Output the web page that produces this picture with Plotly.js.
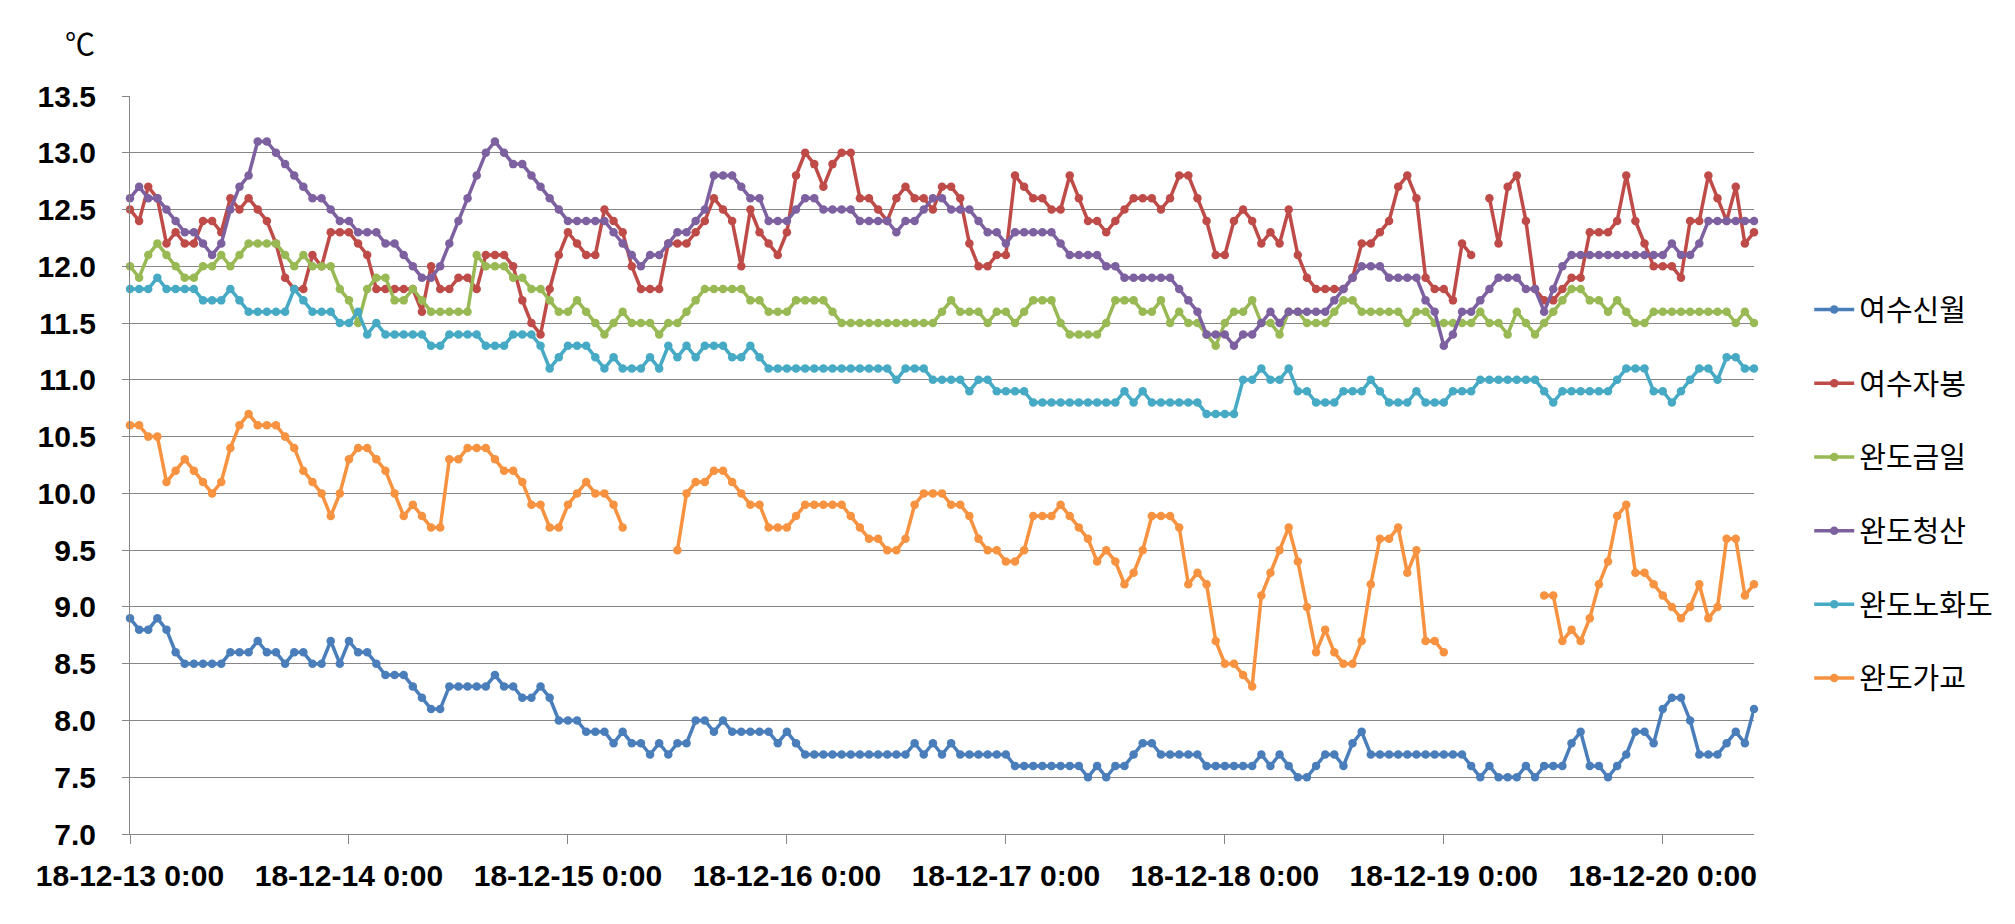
<!DOCTYPE html>
<html>
<head>
<meta charset="utf-8">
<script src="https://cdn.plot.ly/plotly-3.0.1.min.js"></script>
<style>html,body{margin:0;padding:0;background:#fff;}#chart{width:2015px;height:924px;}</style>
</head>
<body>
<div id="chart"></div>
<script>
// Hourly readings from 2018-12-13 00:00 to 2018-12-20 10:00 (179 points)
const startTime = '2018-12-13T00:00:00';
const endTime = '2018-12-20T10:00:00';
const seriesNames = ['여수신월', '여수자봉', '완도금일', '완도청산', '완도노화도', '완도가교'];
const tickVals = ['2018-12-13 00:00','2018-12-14 00:00','2018-12-15 00:00','2018-12-16 00:00','2018-12-17 00:00','2018-12-18 00:00','2018-12-19 00:00','2018-12-20 00:00'];
const tickText = ['18-12-13 0:00','18-12-14 0:00','18-12-15 0:00','18-12-16 0:00','18-12-17 0:00','18-12-18 0:00','18-12-19 0:00','18-12-20 0:00'];

const yeosuSinwol = [
 8.9,8.8,8.8,8.9,8.8,8.6,8.5,8.5,8.5,8.5,8.5,8.6,8.6,8.6,8.7,8.6,8.6,8.5,8.6,8.6,8.5,8.5,8.7,8.5,
 8.7,8.6,8.6,8.5,8.4,8.4,8.4,8.3,8.2,8.1,8.1,8.3,8.3,8.3,8.3,8.3,8.4,8.3,8.3,8.2,8.2,8.3,8.2,8.0,
 8.0,8.0,7.9,7.9,7.9,7.8,7.9,7.8,7.8,7.7,7.8,7.7,7.8,7.8,8.0,8.0,7.9,8.0,7.9,7.9,7.9,7.9,7.9,7.8,
 7.9,7.8,7.7,7.7,7.7,7.7,7.7,7.7,7.7,7.7,7.7,7.7,7.7,7.7,7.8,7.7,7.8,7.7,7.8,7.7,7.7,7.7,7.7,7.7,
 7.7,7.6,7.6,7.6,7.6,7.6,7.6,7.6,7.6,7.5,7.6,7.5,7.6,7.6,7.7,7.8,7.8,7.7,7.7,7.7,7.7,7.7,7.6,7.6,
 7.6,7.6,7.6,7.6,7.7,7.6,7.7,7.6,7.5,7.5,7.6,7.7,7.7,7.6,7.8,7.9,7.7,7.7,7.7,7.7,7.7,7.7,7.7,7.7,
 7.7,7.7,7.7,7.6,7.5,7.6,7.5,7.5,7.5,7.6,7.5,7.6,7.6,7.6,7.8,7.9,7.6,7.6,7.5,7.6,7.7,7.9,7.9,7.8,
 8.1,8.2,8.2,8.0,7.7,7.7,7.7,7.8,7.9,7.8,8.1
];
const yeosuJabong = [
 12.5,12.4,12.7,12.6,12.2,12.3,12.2,12.2,12.4,12.4,12.3,12.6,12.5,12.6,12.5,12.4,12.2,11.9,11.8,11.8,12.1,12.0,12.3,12.3,
 12.3,12.2,12.1,11.8,11.8,11.8,11.8,11.8,11.6,12.0,11.8,11.8,11.9,11.9,11.8,12.1,12.1,12.1,12.0,11.7,11.5,11.4,11.8,12.1,
 12.3,12.2,12.1,12.1,12.5,12.4,12.3,12.0,11.8,11.8,11.8,12.2,12.2,12.2,12.3,12.4,12.6,12.5,12.4,12.0,12.5,12.3,12.2,12.1,
 12.3,12.8,13.0,12.9,12.7,12.9,13.0,13.0,12.6,12.6,12.5,12.4,12.6,12.7,12.6,12.6,12.5,12.7,12.7,12.6,12.2,12.0,12.0,12.1,
 12.1,12.8,12.7,12.6,12.6,12.5,12.5,12.8,12.6,12.4,12.4,12.3,12.4,12.5,12.6,12.6,12.6,12.5,12.6,12.8,12.8,12.6,12.4,12.1,
 12.1,12.4,12.5,12.4,12.2,12.3,12.2,12.5,12.1,11.9,11.8,11.8,11.8,11.8,11.9,12.2,12.2,12.3,12.4,12.7,12.8,12.6,11.9,11.8,
 11.8,11.7,12.2,12.1,null,12.6,12.2,12.7,12.8,12.4,11.8,11.7,11.7,11.8,11.9,11.9,12.3,12.3,12.3,12.4,12.8,12.4,12.2,12.0,
 12.0,12.0,11.9,12.4,12.4,12.8,12.6,12.4,12.7,12.2,12.3
];
const wandoGeumil = [
 12.0,11.9,12.1,12.2,12.1,12.0,11.9,11.9,12.0,12.0,12.1,12.0,12.1,12.2,12.2,12.2,12.2,12.1,12.0,12.1,12.0,12.0,12.0,11.8,
 11.7,11.5,11.8,11.9,11.9,11.7,11.7,11.8,11.7,11.6,11.6,11.6,11.6,11.6,12.1,12.0,12.0,12.0,11.9,11.9,11.8,11.8,11.7,11.6,
 11.6,11.7,11.6,11.5,11.4,11.5,11.6,11.5,11.5,11.5,11.4,11.5,11.5,11.6,11.7,11.8,11.8,11.8,11.8,11.8,11.7,11.7,11.6,11.6,
 11.6,11.7,11.7,11.7,11.7,11.6,11.5,11.5,11.5,11.5,11.5,11.5,11.5,11.5,11.5,11.5,11.5,11.6,11.7,11.6,11.6,11.6,11.5,11.6,
 11.6,11.5,11.6,11.7,11.7,11.7,11.5,11.4,11.4,11.4,11.4,11.5,11.7,11.7,11.7,11.6,11.6,11.7,11.5,11.6,11.5,11.5,11.4,11.3,
 11.5,11.6,11.6,11.7,11.5,11.5,11.4,11.6,11.6,11.5,11.5,11.5,11.6,11.7,11.7,11.6,11.6,11.6,11.6,11.6,11.5,11.6,11.6,11.5,
 11.5,11.5,11.5,11.5,11.6,11.5,11.5,11.4,11.6,11.5,11.4,11.5,11.6,11.7,11.8,11.8,11.7,11.7,11.6,11.7,11.6,11.5,11.5,11.6,
 11.6,11.6,11.6,11.6,11.6,11.6,11.6,11.6,11.5,11.6,11.5
];
const wandoCheongsan = [
 12.6,12.7,12.6,12.6,12.5,12.4,12.3,12.3,12.2,12.1,12.2,12.5,12.7,12.8,13.1,13.1,13.0,12.9,12.8,12.7,12.6,12.6,12.5,12.4,
 12.4,12.3,12.3,12.3,12.2,12.2,12.1,12.0,11.9,11.9,12.0,12.2,12.4,12.6,12.8,13.0,13.1,13.0,12.9,12.9,12.8,12.7,12.6,12.5,
 12.4,12.4,12.4,12.4,12.4,12.3,12.2,12.1,12.0,12.1,12.1,12.2,12.3,12.3,12.4,12.5,12.8,12.8,12.8,12.7,12.6,12.6,12.4,12.4,
 12.4,12.5,12.6,12.6,12.5,12.5,12.5,12.5,12.4,12.4,12.4,12.4,12.3,12.4,12.4,12.5,12.6,12.6,12.5,12.5,12.5,12.4,12.3,12.3,
 12.2,12.3,12.3,12.3,12.3,12.3,12.2,12.1,12.1,12.1,12.1,12.0,12.0,11.9,11.9,11.9,11.9,11.9,11.9,11.8,11.7,11.6,11.4,11.4,
 11.4,11.3,11.4,11.4,11.5,11.6,11.5,11.6,11.6,11.6,11.6,11.6,11.7,11.8,11.9,12.0,12.0,12.0,11.9,11.9,11.9,11.9,11.7,11.6,
 11.3,11.4,11.6,11.6,11.7,11.8,11.9,11.9,11.9,11.8,11.8,11.6,11.8,12.0,12.1,12.1,12.1,12.1,12.1,12.1,12.1,12.1,12.1,12.1,
 12.1,12.2,12.1,12.1,12.2,12.4,12.4,12.4,12.4,12.4,12.4
];
const wandoNohwado = [
 11.8,11.8,11.8,11.9,11.8,11.8,11.8,11.8,11.7,11.7,11.7,11.8,11.7,11.6,11.6,11.6,11.6,11.6,11.8,11.7,11.6,11.6,11.6,11.5,
 11.5,11.6,11.4,11.5,11.4,11.4,11.4,11.4,11.4,11.3,11.3,11.4,11.4,11.4,11.4,11.3,11.3,11.3,11.4,11.4,11.4,11.3,11.1,11.2,
 11.3,11.3,11.3,11.2,11.1,11.2,11.1,11.1,11.1,11.2,11.1,11.3,11.2,11.3,11.2,11.3,11.3,11.3,11.2,11.2,11.3,11.2,11.1,11.1,
 11.1,11.1,11.1,11.1,11.1,11.1,11.1,11.1,11.1,11.1,11.1,11.1,11.0,11.1,11.1,11.1,11.0,11.0,11.0,11.0,10.9,11.0,11.0,10.9,
 10.9,10.9,10.9,10.8,10.8,10.8,10.8,10.8,10.8,10.8,10.8,10.8,10.8,10.9,10.8,10.9,10.8,10.8,10.8,10.8,10.8,10.8,10.7,10.7,
 10.7,10.7,11.0,11.0,11.1,11.0,11.0,11.1,10.9,10.9,10.8,10.8,10.8,10.9,10.9,10.9,11.0,10.9,10.8,10.8,10.8,10.9,10.8,10.8,
 10.8,10.9,10.9,10.9,11.0,11.0,11.0,11.0,11.0,11.0,11.0,10.9,10.8,10.9,10.9,10.9,10.9,10.9,10.9,11.0,11.1,11.1,11.1,10.9,
 10.9,10.8,10.9,11.0,11.1,11.1,11.0,11.2,11.2,11.1,11.1
];
const wandoGagyo = [
 10.6,10.6,10.5,10.5,10.1,10.2,10.3,10.2,10.1,10.0,10.1,10.4,10.6,10.7,10.6,10.6,10.6,10.5,10.4,10.2,10.1,10.0,9.8,10.0,
 10.3,10.4,10.4,10.3,10.2,10.0,9.8,9.9,9.8,9.7,9.7,10.3,10.3,10.4,10.4,10.4,10.3,10.2,10.2,10.1,9.9,9.9,9.7,9.7,
 9.9,10.0,10.1,10.0,10.0,9.9,9.7,null,null,null,null,null,9.5,10.0,10.1,10.1,10.2,10.2,10.1,10.0,9.9,9.9,9.7,9.7,
 9.7,9.8,9.9,9.9,9.9,9.9,9.9,9.8,9.7,9.6,9.6,9.5,9.5,9.6,9.9,10.0,10.0,10.0,9.9,9.9,9.8,9.6,9.5,9.5,
 9.4,9.4,9.5,9.8,9.8,9.8,9.9,9.8,9.7,9.6,9.4,9.5,9.4,9.2,9.3,9.5,9.8,9.8,9.8,9.7,9.2,9.3,9.2,8.7,
 8.5,8.5,8.4,8.3,9.1,9.3,9.5,9.7,9.4,9.0,8.6,8.8,8.6,8.5,8.5,8.7,9.2,9.6,9.6,9.7,9.3,9.5,8.7,8.7,
 8.6,null,null,null,null,null,null,null,null,null,null,9.1,9.1,8.7,8.8,8.7,8.9,9.2,9.4,9.8,9.9,9.3,9.3,9.2,
 9.1,9.0,8.9,9.0,9.2,8.9,9.0,9.6,9.6,9.1,9.2
];

const seriesValues = [yeosuSinwol, yeosuJabong, wandoGeumil, wandoCheongsan, wandoNohwado, wandoGagyo];
const seriesColors = ['#4A7EBB', '#BE4B48', '#98B954', '#7D60A0', '#46AAC5', '#F69240'];

// hourly timestamps
function hourStamps(n) {
  const out = [];
  const t0 = new Date(startTime + 'Z').getTime();
  for (let i = 0; i < n; i++) {
    const d = new Date(t0 + i * 3600000);
    out.push(d.toISOString().slice(0, 16).replace('T', ' '));
  }
  return out;
}
const times = hourStamps(yeosuSinwol.length);

const traces = seriesValues.map((vals, i) => ({
  type: 'scatter',
  mode: 'lines+markers',
  name: seriesNames[i],
  legendgroup: 'g' + i,
  x: times,
  y: vals,
  connectgaps: false,
  cliponaxis: false,
  line: {color: seriesColors[i], width: 3.5},
  marker: {color: seriesColors[i], size: 8.5, symbol: 'circle'}
}));

const gridCol = '#868686';
const layout = {
  width: 2015,
  height: 924,
  paper_bgcolor: '#ffffff',
  plot_bgcolor: '#ffffff',
  margin: {l: 130, r: 261, t: 96, b: 90},
  showlegend: true,
  legend: {
    x: 1.034, xanchor: 'left',
    y: 0.745, yanchor: 'top',
    font: {family: 'Noto Sans CJK KR, sans-serif', size: 29, color: '#000'},
    tracegroupgap: 33,
    traceorder: 'grouped',
    itemwidth: 40,
    bgcolor: 'rgba(0,0,0,0)'
  },
  xaxis: {
    type: 'date',
    range: [startTime.replace('T', ' '), endTime.replace('T', ' ')],
    tickmode: 'array',
    tickvals: tickVals,
    ticktext: tickText,
    ticks: 'outside',
    ticklen: 9,
    tickcolor: gridCol,
    tickwidth: 1,
    showline: true,
    linecolor: gridCol,
    linewidth: 1,
    showgrid: false,
    zeroline: false,
    ticklabelstandoff: 6,
    tickfont: {family: 'Liberation Sans, Arial, sans-serif', size: 30, color: '#000', weight: 'bold'}
  },
  yaxis: {
    range: [7, 13.5],
    tick0: 7,
    dtick: 0.5,
    tickformat: '.1f',
    ticks: 'outside',
    ticklen: 7,
    tickcolor: gridCol,
    tickwidth: 1,
    showline: true,
    linecolor: gridCol,
    linewidth: 1,
    showgrid: true,
    gridcolor: gridCol,
    gridwidth: 1,
    zeroline: false,
    ticklabelstandoff: 20,
    tickfont: {family: 'Liberation Sans, Arial, sans-serif', size: 30, color: '#000', weight: 'bold'}
  },
  annotations: [{
    xref: 'paper', yref: 'paper',
    x: -0.031, y: 1.073,
    xanchor: 'center', yanchor: 'middle',
    text: '℃',
    showarrow: false,
    font: {family: 'Noto Sans CJK KR, sans-serif', size: 30, color: '#000'}
  }]
};

Plotly.newPlot('chart', traces, layout, {displayModeBar: false, staticPlot: true});
</script>
</body>
</html>
